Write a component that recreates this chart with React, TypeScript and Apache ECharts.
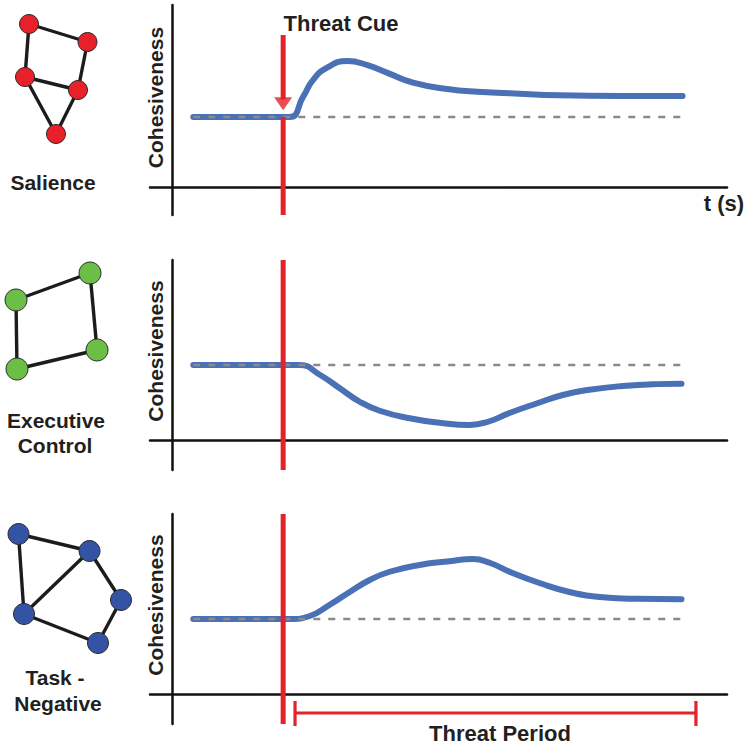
import React, { useEffect, useRef } from "react";
import * as echarts from "echarts";

// ---- time axis (arbitrary seconds) ----
const xMin = -2;
const xMax = 50;
const cueT = 10;
const baselineT = [1.9, 45.9];
const baselineV = 1;
const threatPeriodT = [11.07, 47.2];

// ---- Salience network cohesiveness ----
const salienceT = [1.9, 8, 10.6, 11.8, 12.7, 14.0, 15.8, 17.6, 19.4, 21.7, 24.8, 27.5, 30.4, 34.9, 40.4, 46.0];
const salienceV = [1.0, 1.0, 1.0, 1.29, 1.53, 1.71, 1.8, 1.74, 1.63, 1.49, 1.4, 1.36, 1.34, 1.31, 1.3, 1.3];

// ---- Executive control network cohesiveness ----
const executiveT = [1.9, 8, 11.5, 13.3, 15.1, 16.9, 18.7, 21.4, 24.1, 26.8, 28.6, 30.4, 32.9, 35.2, 37.6, 40.6, 43.7, 45.9];
const executiveV = [1.0, 1.0, 1.0, 0.87, 0.69, 0.51, 0.39, 0.29, 0.23, 0.2, 0.25, 0.36, 0.49, 0.6, 0.67, 0.72, 0.745, 0.75];

// ---- Task-negative network cohesiveness ----
const taskNegT = [1.9, 8, 10.6, 12.4, 14.2, 16.0, 17.8, 19.6, 22.3, 25.0, 27.1, 28.6, 30.4, 33.1, 35.8, 38.8, 41.9, 45.9];
const taskNegV = [1.0, 1.0, 1.0, 1.04, 1.19, 1.36, 1.52, 1.63, 1.72, 1.77, 1.8, 1.75, 1.63, 1.48, 1.36, 1.29, 1.27, 1.265];

// ---- y ranges ----
const yRanges = [
  [-0.4, 2.6],
  [-0.4, 2.4],
  [-0.4, 2.4],
];

// ---- network diagrams (node positions & links) ----
const salienceNodes = [[29, 24], [87.5, 42], [25, 77], [78, 90], [56, 134]];
const salienceEdges = [[0, 1], [0, 2], [1, 3], [2, 3], [2, 4], [3, 4]];
const executiveNodes = [[16, 300], [90, 273], [17, 369], [97, 350]];
const executiveEdges = [[0, 1], [0, 2], [1, 3], [2, 3]];
const taskNegNodes = [[18.5, 534], [89.5, 551], [121, 600], [24, 614], [98, 643]];
const taskNegEdges = [[0, 1], [0, 3], [1, 3], [1, 2], [2, 4], [3, 4]];

const BLUE = "#4a70b6";
const RED = "#e3222a";
const GREY = "#8a8a8a";
const INK = "#231f20";
const FONT = '"Liberation Sans", Arial, Helvetica, sans-serif';

function pairs(t: number[], v: number[]) {
  return t.map((x, i) => [x, v[i]]);
}

function network(nodes: number[][], edges: number[][], color: string, size: number) {
  const xs = nodes.map((n) => n[0]);
  const ys = nodes.map((n) => n[1]);
  const minX = Math.min(...xs);
  const minY = Math.min(...ys);
  const maxX = Math.max(...xs);
  const maxY = Math.max(...ys);
  return {
    type: "graph",
    layout: "none",
    left: minX,
    top: minY,
    width: maxX - minX,
    height: maxY - minY,
    roam: false,
    silent: true,
    symbol: "circle",
    symbolSize: size,
    data: nodes.map((n, i) => ({ name: "n" + i, x: n[0], y: n[1] })),
    links: edges.map(([s, t]) => ({ source: s, target: t })),
    itemStyle: { color, borderColor: "#2b2b2b", borderWidth: 1 },
    lineStyle: { color: "#1c1c1c", width: 3.4, opacity: 1, curveness: 0 },
    label: { show: false },
    emphasis: { disabled: true },
  };
}

function text(str: string, x: number, y: number, size: number, rotation = 0) {
  return {
    type: "text",
    x,
    y,
    rotation,
    silent: true,
    style: {
      text: str,
      fill: INK,
      fontSize: size,
      fontWeight: "bold",
      fontFamily: FONT,
      align: "center",
      verticalAlign: "middle",
      textAlign: "center",
      textVerticalAlign: "middle",
    },
  };
}

export default function App() {
  const ref = useRef<HTMLDivElement>(null);

  useEffect(() => {
    if (!ref.current) return;
    const chart = echarts.init(ref.current, undefined, { renderer: "svg" });

    const gridTops = [5, 260, 514];
    const grids = gridTops.map((top) => ({ left: 150, right: 23, top, height: 210 }));
    const xAxes = gridTops.map((_, i) => ({
      type: "value",
      gridIndex: i,
      min: xMin,
      max: xMax,
      axisLine: { show: true, onZero: true, lineStyle: { color: "#111", width: 2.5 } },
      axisTick: { show: false },
      axisLabel: { show: false },
      splitLine: { show: false },
    }));
    const yAxes = gridTops.map((_, i) => ({
      type: "value",
      gridIndex: i,
      min: yRanges[i][0],
      max: yRanges[i][1],
      axisLine: { show: true, onZero: true, lineStyle: { color: "#111", width: 2.5 } },
      axisTick: { show: false },
      axisLabel: { show: false },
      splitLine: { show: false },
    }));

    const curves = [pairs(salienceT, salienceV), pairs(executiveT, executiveV), pairs(taskNegT, taskNegV)];
    const series: any[] = [];
    curves.forEach((c, i) => {
      series.push({
        type: "line",
        xAxisIndex: i,
        yAxisIndex: i,
        data: c,
        smooth: 0.5,
        symbol: "none",
        silent: true,
        lineStyle: { color: BLUE, width: 6, cap: "round" },
        z: 2,
      });
      series.push({
        type: "line",
        xAxisIndex: i,
        yAxisIndex: i,
        data: baselineT.map((t) => [t, baselineV]),
        symbol: "none",
        silent: true,
        lineStyle: { color: GREY, width: 2.5, type: [7, 8] },
        z: 3,
      });
      const lower = yRanges[i][0];
      const upper = i === 0 ? baselineV : yRanges[i][1];
      series.push({
        type: "line",
        xAxisIndex: i,
        yAxisIndex: i,
        data: [[cueT, lower], [cueT, upper]],
        symbol: "none",
        silent: true,
        clip: false,
        lineStyle: { color: RED, width: 5 },
        z: 4,
      });
    });

    // Threat cue arrow (panel 1)
    series.push({
      type: "line",
      xAxisIndex: 0,
      yAxisIndex: 0,
      data: [[cueT, 2.171], [cueT, 1.25]],
      symbol: "none",
      silent: true,
      clip: false,
      lineStyle: { color: RED, width: 5 },
      z: 4,
    });
    series.push({
      type: "scatter",
      xAxisIndex: 0,
      yAxisIndex: 0,
      data: [[cueT, 1.19]],
      symbol: "triangle",
      symbolSize: [18, 13],
      symbolRotate: 180,
      silent: true,
      clip: false,
      itemStyle: { color: RED },
      z: 4,
    });

    // Threat period bracket (panel 3)
    const bracketY = -0.253;
    const tickTop = -0.093;
    const tickBottom = -0.427;
    const bracketSeg = (data: number[][]) => ({
      type: "line",
      xAxisIndex: 2,
      yAxisIndex: 2,
      data,
      symbol: "none",
      silent: true,
      clip: false,
      lineStyle: { color: RED, width: 3.2 },
      z: 4,
    });
    series.push(bracketSeg(threatPeriodT.map((t) => [t, bracketY])));
    series.push(bracketSeg([[threatPeriodT[0], tickTop], [threatPeriodT[0], tickBottom]]));
    series.push(bracketSeg([[threatPeriodT[1], tickTop], [threatPeriodT[1], tickBottom]]));

    // networks
    series.push(network(salienceNodes, salienceEdges, "#e8202a", 19));
    series.push(network(executiveNodes, executiveEdges, "#6cbf46", 22));
    series.push(network(taskNegNodes, taskNegEdges, "#3553a5", 21));

    const graphic = [
      text("Threat Cue", 341, 23, 22),
      text("t (s)", 724, 203, 22),
      text("Threat Period", 500, 733, 22),
      text("Cohesiveness", 155, 97.5, 21, Math.PI / 2),
      text("Cohesiveness", 155, 351, 21, Math.PI / 2),
      text("Cohesiveness", 155, 605, 21, Math.PI / 2),
      text("Salience", 53, 182, 21),
      text("Executive", 56, 420, 21),
      text("Control", 55, 445, 21),
      text("Task -", 55, 677, 21),
      text("Negative", 58, 703, 21),
    ];

    chart.setOption({
      animation: false,
      backgroundColor: "#ffffff",
      grid: grids,
      xAxis: xAxes,
      yAxis: yAxes,
      series,
      graphic,
    });

    return () => chart.dispose();
  }, []);

  return (
    <div
      ref={ref}
      style={{ position: "absolute", left: 0, top: 0, width: 750, height: 746 }}
    />
  );
}
